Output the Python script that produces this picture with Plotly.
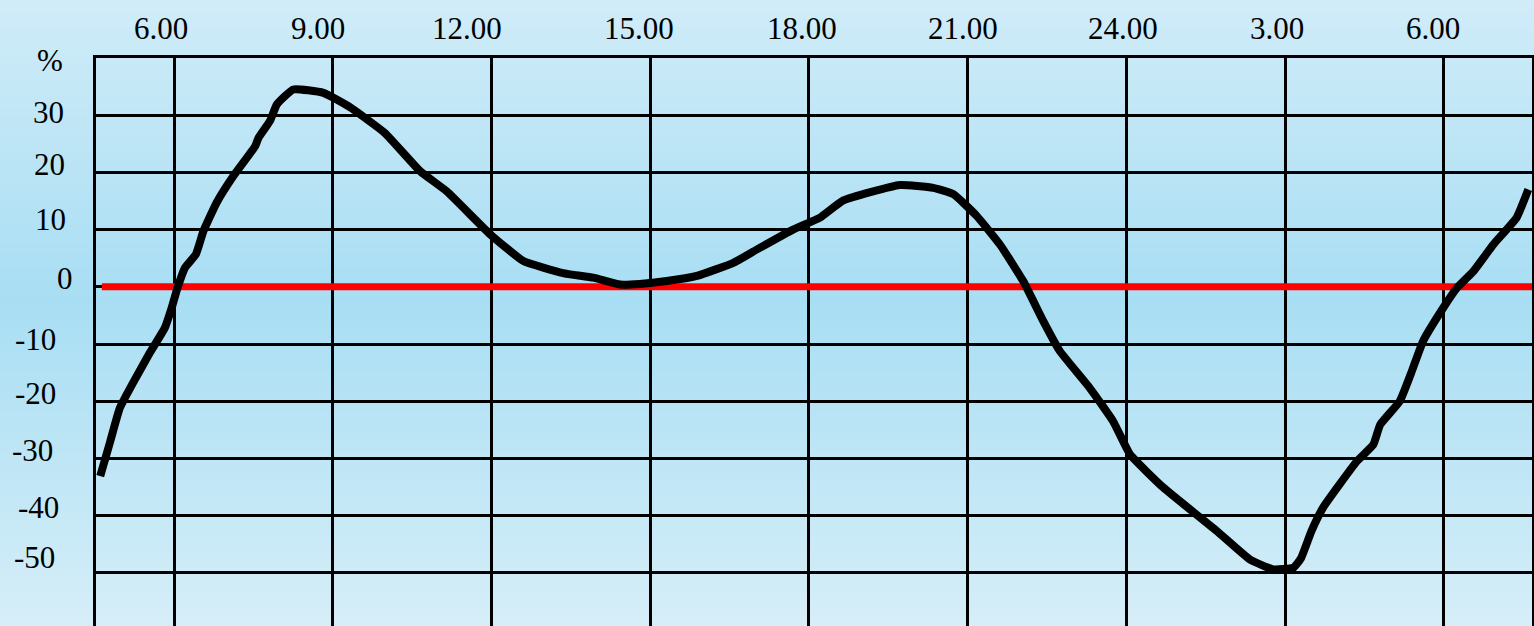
import plotly.graph_objects as go

# Time axis in hours (6.00 = 6, next-day 3.00 = 27, next-day 6.00 = 30)
hours = [4.60, 4.79, 4.97, 5.22, 5.54, 5.82, 5.95, 6.06, 6.20, 6.41, 6.55, 6.80,
         7.12, 7.53, 7.59, 7.81, 7.94, 8.25, 8.82, 9.32, 9.98, 10.65, 11.15,
         11.97, 12.60, 13.35, 13.92, 14.43, 14.80, 15.31, 15.88, 16.57, 17.01,
         17.70, 18.21, 18.65, 19.72, 20.35, 20.73, 21.17, 21.61, 22.05, 22.43,
         22.74, 23.31, 23.75, 24.07, 24.70, 25.71, 26.34, 26.78, 27.16, 27.30,
         27.50, 27.72, 28.36, 28.67, 28.80, 29.17, 29.40, 29.61, 29.99, 30.25,
         30.56, 30.94, 31.38, 31.60]
deviation = [-33.1, -27.0, -21.2, -16.8, -11.5, -7.2, -3.7, -0.2, 3.3, 5.7, 9.7,
             14.7, 19.4, 24.6, 26.0, 29.0, 31.9, 34.5, 33.9, 31.4, 26.9, 20.2,
             16.7, 9.2, 4.5, 2.4, 1.6, 0.4, 0.5, 1.0, 1.9, 4.2, 6.5, 10.0, 12.1,
             15.1, 17.8, 17.3, 16.2, 12.4, 7.4, 1.0, -6.0, -11.2, -17.7, -23.5,
             -29.3, -35.1, -42.7, -47.7, -49.4, -49.1, -47.5, -42.7, -38.6,
             -30.5, -27.6, -24.1, -20.0, -14.7, -9.5, -3.7, -0.2, 2.7, 7.4,
             12.1, 17.0]

zero_x = [4.63, 31.70]
zero_y = [0, 0]

x_tickvals = [6, 9, 12, 15, 18, 21, 24, 27, 30]
x_ticktext = ["6.00", "9.00", "12.00", "15.00", "18.00", "21.00", "24.00", "3.00", "6.00"]
y_tickvals = [-50, -40, -30, -20, -10, 0, 10, 20, 30, 40]
y_ticktext = ["-50", "-40", "-30", "-20", "-10", "0", "10", "20", "30", "%"]

# label placement style (pixel nudges of the hand-placed labels)
x_label_dx = [-13, -15, -25, -11, -7, -5, -3, -8, -11]
y_label_dx = [-39, -35, -41, -38, -38, -21, -28, -29, -30, -31]
y_label_dy = [15, 8, 8, 8, 5, 8, 10, 8, 3, -2]

W, H = 1534, 626
ML, MR, MT, MB = 96, 2, 58, 0

fig = go.Figure()
fig.add_trace(go.Scatter(x=zero_x, y=zero_y, mode="lines",
                         line=dict(color="#ff0000", width=7), hoverinfo="skip"))
fig.add_trace(go.Scatter(x=hours, y=deviation, mode="lines",
                         line=dict(color="#000000", width=8, shape="spline", smoothing=0.4)))

# vertical gradient background built from thin bands
def lerp(a, b, f):
    return tuple(round(a[i] + (b[i] - a[i]) * f) for i in range(3))

top_c = (208, 236, 248)
mid_c = (168, 222, 243)
bot_c = (214, 238, 248)
mid_p = 300
shapes = []
band = 3
pw = W - ML - MR
ph = H - MT - MB
for p in range(0, H, band):
    c = p + band / 2
    if c <= mid_p:
        col = lerp(top_c, mid_c, c / mid_p)
    else:
        col = lerp(mid_c, bot_c, (c - mid_p) / (H - mid_p))
    y1 = (H - MB - p) / ph
    y0 = (H - MB - p - band - 0.5) / ph
    shapes.append(dict(type="rect", xref="paper", yref="paper", layer="below",
                       x0=-ML / pw - 0.01, x1=1 + MR / pw + 0.01, y0=y0, y1=y1,
                       line=dict(width=0), fillcolor="rgb(%d,%d,%d)" % col))

font_family = "Liberation Serif, Times New Roman, serif"
label_font = dict(family=font_family, size=31, color="#000000")

annotations = []
for v, t, dx in zip(x_tickvals, x_ticktext, x_label_dx):
    annotations.append(dict(x=v, xref="x", y=1, yref="paper", text=t, showarrow=False,
                            xanchor="center", yanchor="middle", xshift=dx, yshift=30,
                            font=label_font))
for v, t, dx, dy in zip(y_tickvals, y_ticktext, y_label_dx, y_label_dy):
    annotations.append(dict(x=0, xref="paper", y=v, yref="y", text=t, showarrow=False,
                            xanchor="right", yanchor="middle", xshift=dx, yshift=dy,
                            font=label_font))

fig.update_layout(
    width=W, height=H,
    margin=dict(l=ML, r=MR, t=MT, b=MB),
    paper_bgcolor="rgb(190,229,245)",
    plot_bgcolor="rgba(0,0,0,0)",
    showlegend=False,
    shapes=shapes,
    annotations=annotations,
    font=label_font,
    xaxis=dict(range=[4.52, 31.67], side="top", tickvals=x_tickvals, ticktext=x_ticktext,
               showticklabels=False,
               showgrid=True, gridcolor="#000000", gridwidth=2.5,
               showline=True, linecolor="#000000", linewidth=2.5,
               ticks="", zeroline=False, fixedrange=True),
    yaxis=dict(range=[-59.3, 40], tickvals=y_tickvals, ticktext=y_ticktext,
               showticklabels=False,
               showgrid=True, gridcolor="#000000", gridwidth=2.5,
               showline=True, linecolor="#000000", linewidth=2.5, mirror=True,
               ticks="", zeroline=False, fixedrange=True),
)

fig.write_html("out.html", config={"displayModeBar": False},
               post_script="document.body.style.margin='0';document.body.style.padding='0';document.body.style.overflow='hidden';")
